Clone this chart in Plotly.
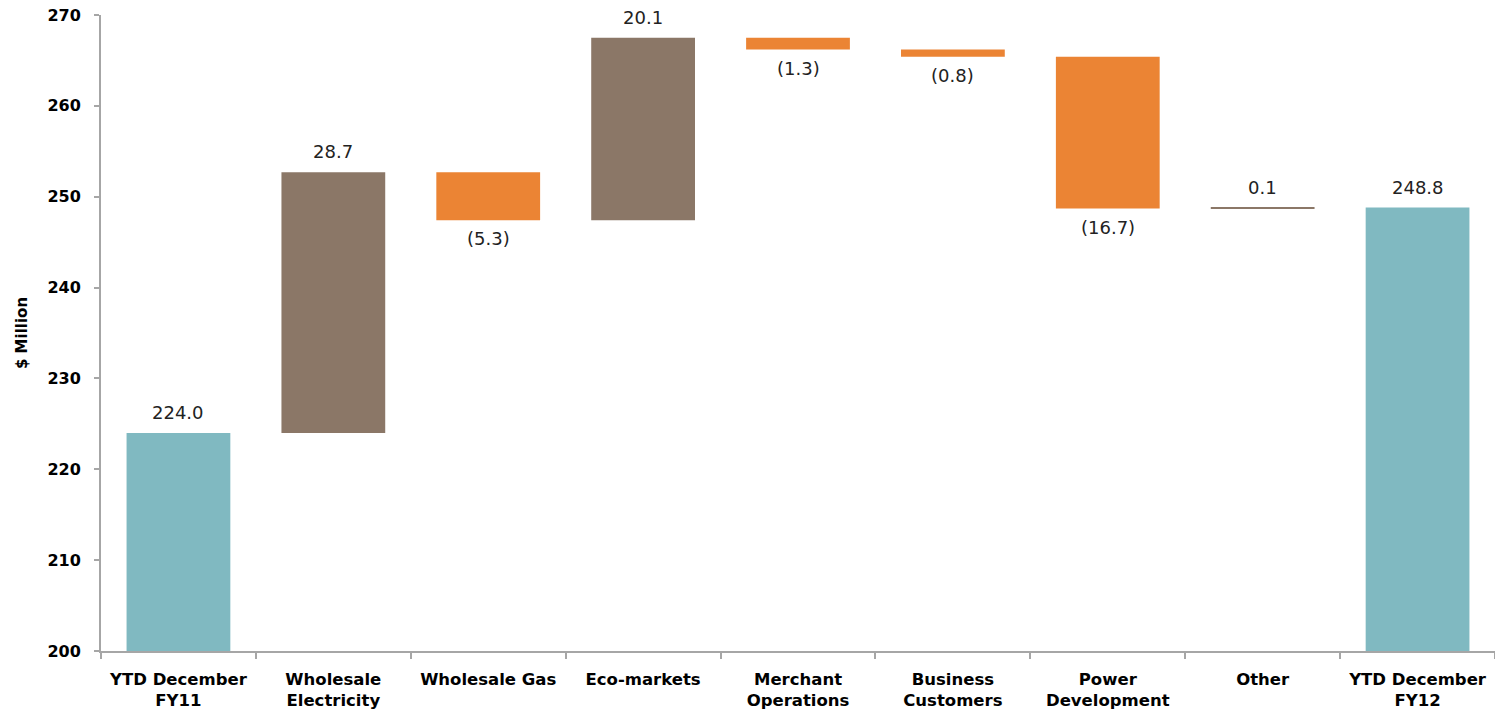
import plotly.graph_objects as go

# Bridge of earnings, YTD December FY11 -> FY12 ($ million)
categories = [
    "YTD December<br>FY11",
    "Wholesale<br>Electricity",
    "Wholesale Gas",
    "Eco-markets",
    "Merchant<br>Operations",
    "Business<br>Customers",
    "Power<br>Development",
    "Other",
    "YTD December<br>FY12",
]
start_value = 224.0
changes = [28.7, -5.3, 20.1, -1.3, -0.8, -16.7, 0.1]
end_value = 248.8

measures = ["absolute"] + ["relative"] * len(changes) + ["total"]
values = [start_value] + changes + [end_value]


def fmt(v):
    return f"{v:.1f}" if v >= 0 else f"({-v:.1f})"


TEAL = "#80B9C1"
BROWN = "#8B7767"
ORANGE = "#EB8434"
AXIS = "#A6A6A6"
LABEL_FONT = dict(family="DejaVu Sans", size=18, color="#222222")

fig = go.Figure(
    go.Waterfall(
        x=categories,
        y=values,
        measure=measures,
        increasing=dict(marker=dict(color=BROWN, line=dict(width=0))),
        decreasing=dict(marker=dict(color=ORANGE, line=dict(width=0))),
        totals=dict(marker=dict(color=TEAL, line=dict(width=0))),
        connector=dict(visible=False),
        hoverinfo="skip",
    )
)

# Value labels: above the bar end for gains/totals, below it for losses
running = 0.0
for cat, m, v in zip(categories, measures, values):
    if m == "absolute":
        running = v
        top, bottom = v, None
    elif m == "total":
        top, bottom = running, None
    else:
        prev = running
        running = prev + v
        top, bottom = (running, None) if v >= 0 else (None, running)
    if top is not None:
        fig.add_annotation(x=cat, y=top, text=fmt(v), showarrow=False,
                           yanchor="bottom", yshift=8, font=LABEL_FONT)
    else:
        fig.add_annotation(x=cat, y=bottom, text=fmt(v), showarrow=False,
                           yanchor="top", yshift=-6, font=LABEL_FONT)

fig.update_layout(
    width=1495,
    height=714,
    margin=dict(l=101, r=0, t=15, b=63),
    paper_bgcolor="white",
    plot_bgcolor="white",
    showlegend=False,
    waterfallgap=0.33,
    font=dict(family="DejaVu Sans", color="black"),
)

fig.update_xaxes(
    showgrid=False,
    showline=True,
    linecolor=AXIS,
    linewidth=2,
    ticks="outside",
    tickson="boundaries",
    ticklen=6,
    tickwidth=2,
    tickcolor=AXIS,
    ticklabelstandoff=12,
    tickfont=dict(family="DejaVu Sans", size=16.5, color="black", weight="bold"),
)

fig.update_yaxes(
    range=[200, 270],
    dtick=10,
    showgrid=False,
    zeroline=False,
    showline=True,
    linecolor=AXIS,
    linewidth=2,
    ticks="outside",
    ticklen=5,
    tickwidth=2,
    tickcolor=AXIS,
    ticklabelstandoff=10,
    tickfont=dict(family="DejaVu Sans", size=16, color="black", weight="bold"),
    title=dict(
        text="$ Million",
        font=dict(family="DejaVu Sans", size=15, color="black", weight="bold"),
        standoff=16,
    ),
)

fig.write_html("out.html")
